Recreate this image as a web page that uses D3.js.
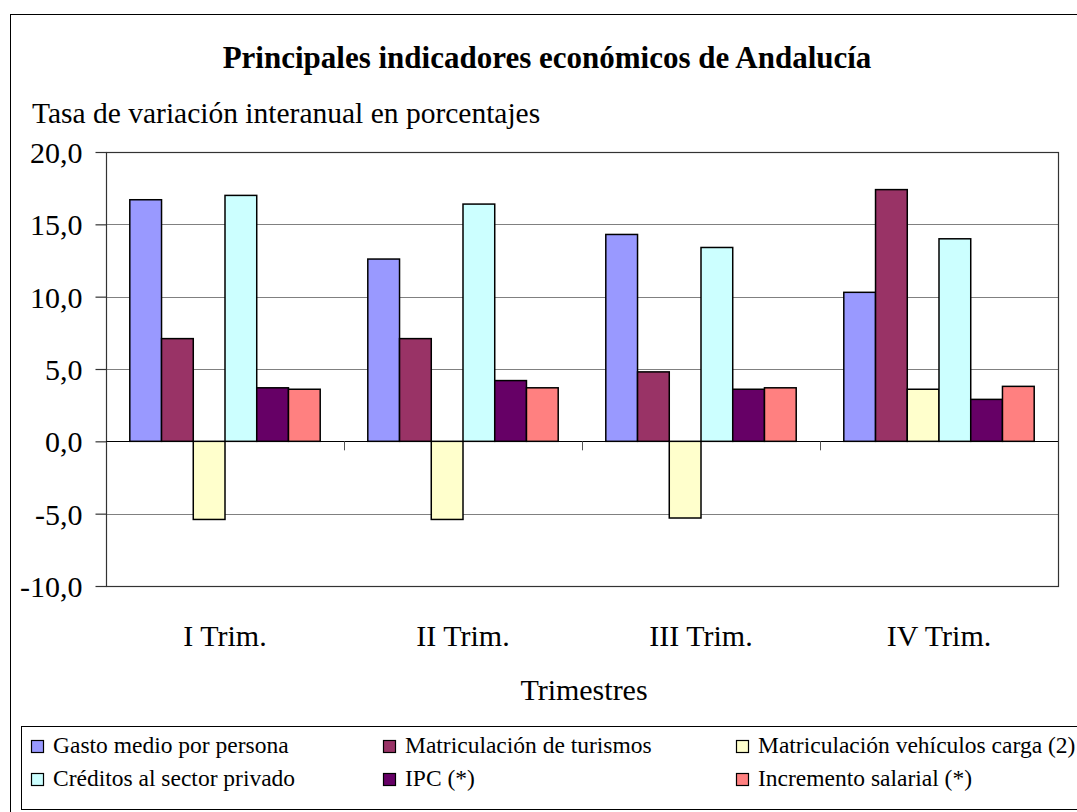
<!DOCTYPE html>
<html>
<head>
<meta charset="utf-8">
<script src="https://cdn.jsdelivr.net/npm/d3@7"></script>
</head>
<body style="margin:0;background:#fff">
<div id="chart"></div>
<script>
// Data
const trimestres = ['I Trim.', 'II Trim.', 'III Trim.', 'IV Trim.'];
const seriesNames = [
  'Gasto medio por persona',
  'Matriculación de turismos',
  'Matriculación vehículos carga (2)',
  'Créditos al sector privado',
  'IPC (*)',
  'Incremento salarial (*)',
];
const gasto = [16.7, 12.6, 14.3, 10.3];
const turismos = [7.1, 7.1, 4.8, 17.4];
const carga = [-5.4, -5.4, -5.3, 3.6];
const creditos = [17.0, 16.4, 13.4, 14.0];
const ipc = [3.7, 4.2, 3.6, 2.9];
const salarial = [3.6, 3.7, 3.7, 3.8];
const yTicks = [-10, -5, 0, 5, 10, 15, 20];
const colors = ['#9999FF', '#993366', '#FFFFCC', '#CCFFFF', '#660066', '#FF8080'];

const allSeries = [gasto, turismos, carga, creditos, ipc, salarial];

const width = 1077;
const height = 812;
const serif = "'Liberation Serif', 'Times New Roman', 'DejaVu Serif', serif";

// Plot area
const plotLeft = 106;
const plotRight = 1058;
const plotTop = 152;
const plotBottom = 586;

const svg = d3
  .select('#chart')
  .append('svg')
  .attr('width', width)
  .attr('height', height)
  .attr('font-family', serif)
  .style('font-family', serif);

// Outer frame
svg
  .append('rect')
  .attr('x', 10.5)
  .attr('y', 14.5)
  .attr('width', 1080)
  .attr('height', 820)
  .attr('fill', 'none')
  .attr('stroke', '#000')
  .attr('stroke-width', 1);

// Title
svg
  .append('text')
  .attr('x', 547)
  .attr('y', 68)
  .attr('text-anchor', 'middle')
  .style('font-family', serif)
  .style('font-size', '31px')
  .style('font-weight', 'bold')
  .text('Principales indicadores económicos de Andalucía');

// Subtitle
svg
  .append('text')
  .attr('x', 32)
  .attr('y', 123)
  .style('font-family', serif)
  .style('font-size', '29.5px')
  .text('Tasa de variación interanual en porcentajes');

// Scales
const x0 = d3.scaleBand().domain(trimestres).range([plotLeft, plotRight]).padding(0);
const x1 = d3
  .scaleBand()
  .domain(d3.range(seriesNames.length))
  .range([x0.bandwidth() * 0.1, x0.bandwidth() * 0.9])
  .padding(0);
const y = d3.scaleLinear().domain([-10, 20]).range([plotBottom, plotTop]);

// Gridlines
svg
  .append('g')
  .selectAll('line')
  .data(yTicks)
  .enter()
  .append('line')
  .attr('x1', plotLeft)
  .attr('x2', plotRight)
  .attr('y1', (d) => Math.round(y(d)) + 0.5)
  .attr('y2', (d) => Math.round(y(d)) + 0.5)
  .attr('stroke', '#808080')
  .attr('stroke-width', 1.2);

// Plot frame
svg
  .append('rect')
  .attr('x', plotLeft + 0.5)
  .attr('y', Math.round(y(20)) + 0.5)
  .attr('width', plotRight - plotLeft)
  .attr('height', Math.round(y(-10)) - Math.round(y(20)))
  .attr('fill', 'none')
  .attr('stroke', '#333')
  .attr('stroke-width', 1.2);

// Bars
const groups = svg
  .append('g')
  .selectAll('g')
  .data(trimestres)
  .enter()
  .append('g')
  .attr('transform', (d) => 'translate(' + x0(d) + ',0)');

groups
  .selectAll('rect')
  .data((d, i) => allSeries.map((s, k) => ({ k: k, v: s[i] })))
  .enter()
  .append('rect')
  .attr('x', (d) => x1(d.k))
  .attr('width', x1.bandwidth())
  .attr('y', (d) => y(Math.max(0, d.v)))
  .attr('height', (d) => Math.abs(y(d.v) - y(0)))
  .attr('fill', (d) => colors[d.k])
  .attr('stroke', '#000')
  .attr('stroke-width', 1.5);

// Zero axis line
svg
  .append('line')
  .attr('x1', plotLeft)
  .attr('x2', plotRight)
  .attr('y1', Math.round(y(0)) + 0.5)
  .attr('y2', Math.round(y(0)) + 0.5)
  .attr('stroke', '#000')
  .attr('stroke-width', 1);

// Category tick marks on zero line
const catTicks = trimestres.slice(1).map((t) => x0(t));
svg
  .append('g')
  .selectAll('line')
  .data(catTicks)
  .enter()
  .append('line')
  .attr('x1', (d) => d + 0.5)
  .attr('x2', (d) => d + 0.5)
  .attr('y1', y(0))
  .attr('y2', y(0) + 9)
  .attr('stroke', '#555')
  .attr('stroke-width', 1);

// Y axis
const yAxis = d3
  .axisLeft(y)
  .tickValues(yTicks)
  .tickSize(11)
  .tickPadding(13)
  .tickFormat((d) => d3.format('.1f')(d).replace('.', ',').replace('−', '-'));

const yg = svg
  .append('g')
  .attr('transform', 'translate(' + (plotLeft + 0.5) + ',0)')
  .call(yAxis)
  .attr('font-family', serif);
yg.select('.domain').remove();
yg.selectAll('line').attr('stroke', '#333').attr('stroke-width', 1.2);
yg.selectAll('text')
  .attr('fill', '#000')
  .style('font-size', '30px')
  .style('font-family', serif)
  .attr('dy', '0.35em');

// Category labels
svg
  .append('g')
  .selectAll('text')
  .data(trimestres)
  .enter()
  .append('text')
  .attr('x', (d) => x0(d) + x0.bandwidth() / 2)
  .attr('y', 646)
  .attr('text-anchor', 'middle')
  .style('font-family', serif)
  .style('font-size', '30px')
  .text((d) => d);

// X axis title
svg
  .append('text')
  .attr('x', 584)
  .attr('y', 700)
  .attr('text-anchor', 'middle')
  .style('font-family', serif)
  .style('font-size', '30px')
  .text('Trimestres');

// Legend
svg
  .append('rect')
  .attr('x', 21.5)
  .attr('y', 726.5)
  .attr('width', 1080)
  .attr('height', 83)
  .attr('fill', 'none')
  .attr('stroke', '#000')
  .attr('stroke-width', 1);

const legendCols = [31, 383, 736];
const legendRows = [740, 773];

const legend = svg
  .append('g')
  .selectAll('g')
  .data(seriesNames)
  .enter()
  .append('g')
  .attr(
    'transform',
    (d, i) =>
      'translate(' + legendCols[i % 3] + ',' + legendRows[Math.floor(i / 3)] + ')',
  );

legend
  .append('rect')
  .attr('x', 0.5)
  .attr('y', 0.5)
  .attr('width', 12)
  .attr('height', 12)
  .attr('fill', (d, i) => colors[i])
  .attr('stroke', '#000')
  .attr('stroke-width', 1.2);

legend
  .append('text')
  .attr('x', 22)
  .attr('y', 13)
  .style('font-family', serif)
  .style('font-size', '23.5px')
  .text((d) => d);
</script>
</body>
</html>
